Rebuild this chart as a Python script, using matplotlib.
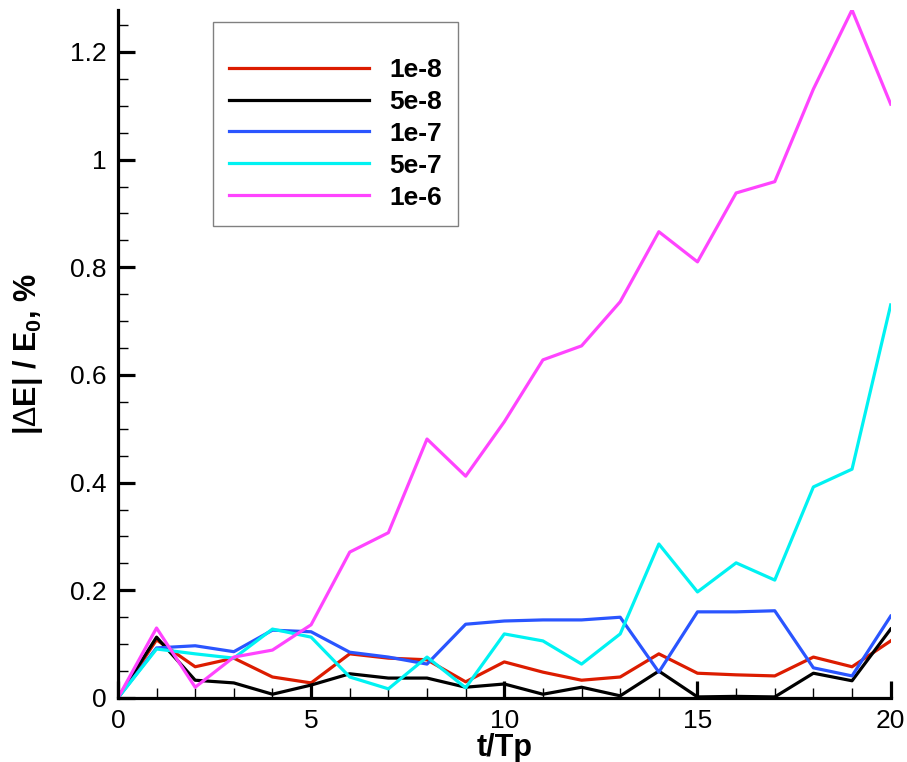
import numpy as np
import matplotlib
matplotlib.use("Agg")
import matplotlib.pyplot as plt
from matplotlib.ticker import MultipleLocator

plt.rcParams['font.family'] = ['Liberation Sans', 'DejaVu Sans']
plt.rcParams['mathtext.fontset'] = 'custom'
plt.rcParams['mathtext.rm'] = 'Liberation Sans'
plt.rcParams['mathtext.bf'] = 'Liberation Sans:bold'

# data
t = list(range(21))
e_1e8 = [0, 0.108, 0.058, 0.074, 0.039, 0.028, 0.082, 0.074, 0.071, 0.030, 0.067,
         0.048, 0.033, 0.039, 0.082, 0.046, 0.043, 0.041, 0.076, 0.058, 0.106]
e_5e8 = [0, 0.113, 0.033, 0.028, 0.007, 0.024, 0.045, 0.037, 0.037, 0.020, 0.026,
         0.007, 0.020, 0.004, 0.050, 0.002, 0.003, 0.002, 0.046, 0.032, 0.128]
e_1e7 = [0, 0.093, 0.097, 0.086, 0.126, 0.123, 0.085, 0.076, 0.063, 0.137, 0.143,
         0.145, 0.145, 0.150, 0.048, 0.160, 0.160, 0.162, 0.056, 0.041, 0.152]
e_5e7 = [0, 0.091, 0.082, 0.074, 0.128, 0.113, 0.039, 0.017, 0.076, 0.019, 0.119,
         0.106, 0.063, 0.119, 0.286, 0.197, 0.251, 0.219, 0.392, 0.425, 0.730]
e_1e6 = [0, 0.130, 0.020, 0.076, 0.089, 0.136, 0.271, 0.307, 0.481, 0.412, 0.513,
         0.628, 0.654, 0.736, 0.866, 0.810, 0.938, 0.959, 1.131, 1.278, 1.103]

labels = ['1e-8', '5e-8', '1e-7', '5e-7', '1e-6']
colors = ['#dc1c00', 'black', '#2a55ff', '#00f2f2', '#ff44ff']

fig = plt.figure(figsize=(9.07, 7.62), dpi=100)
ax = fig.add_axes([0.130, 0.084, 0.852, 0.903])

for y, lab, c in zip([e_1e8, e_5e8, e_1e7, e_5e7, e_1e6], labels, colors):
    ax.plot(t, y, color=c, lw=2.3, label=lab)

ax.set_xlim(0, 20)
ax.set_ylim(0, 1.278)
ax.spines['top'].set_visible(False)
ax.spines['right'].set_visible(False)
ax.spines['left'].set_linewidth(2.3)
ax.spines['bottom'].set_linewidth(2.3)

ax.xaxis.set_major_locator(MultipleLocator(5))
ax.xaxis.set_minor_locator(MultipleLocator(1))
ax.yaxis.set_major_locator(MultipleLocator(0.2))
ax.yaxis.set_minor_locator(MultipleLocator(0.05))
ax.set_yticks([0, 0.2, 0.4, 0.6, 0.8, 1.0, 1.2])
ax.set_yticklabels(['0', '0.2', '0.4', '0.6', '0.8', '1', '1.2'])
ax.tick_params(which='major', direction='in', length=12, width=2.3, labelsize=19, pad=8)
ax.tick_params(which='minor', direction='in', length=7, width=1)

ax.set_xlabel('t/Tp', fontsize=22, fontweight='bold', labelpad=0)
ax.set_ylabel(r'|$\Delta$E| / E$_\mathbf{0}$, %', fontsize=22, fontweight='bold', labelpad=18)

# blank small title just to push the entries down inside the frame
leg = ax.legend(loc='upper left', bbox_to_anchor=(0.123, 0.983), borderaxespad=0,
                prop={'weight': 'bold', 'size': 19}, handlelength=5.3,
                handletextpad=0.75, labelspacing=0.3, borderpad=0.62,
                title=' ', title_fontsize=9,
                fancybox=False, edgecolor='gray', framealpha=1)
leg.get_frame().set_linewidth(1)

fig.savefig('out.png', dpi=100)
